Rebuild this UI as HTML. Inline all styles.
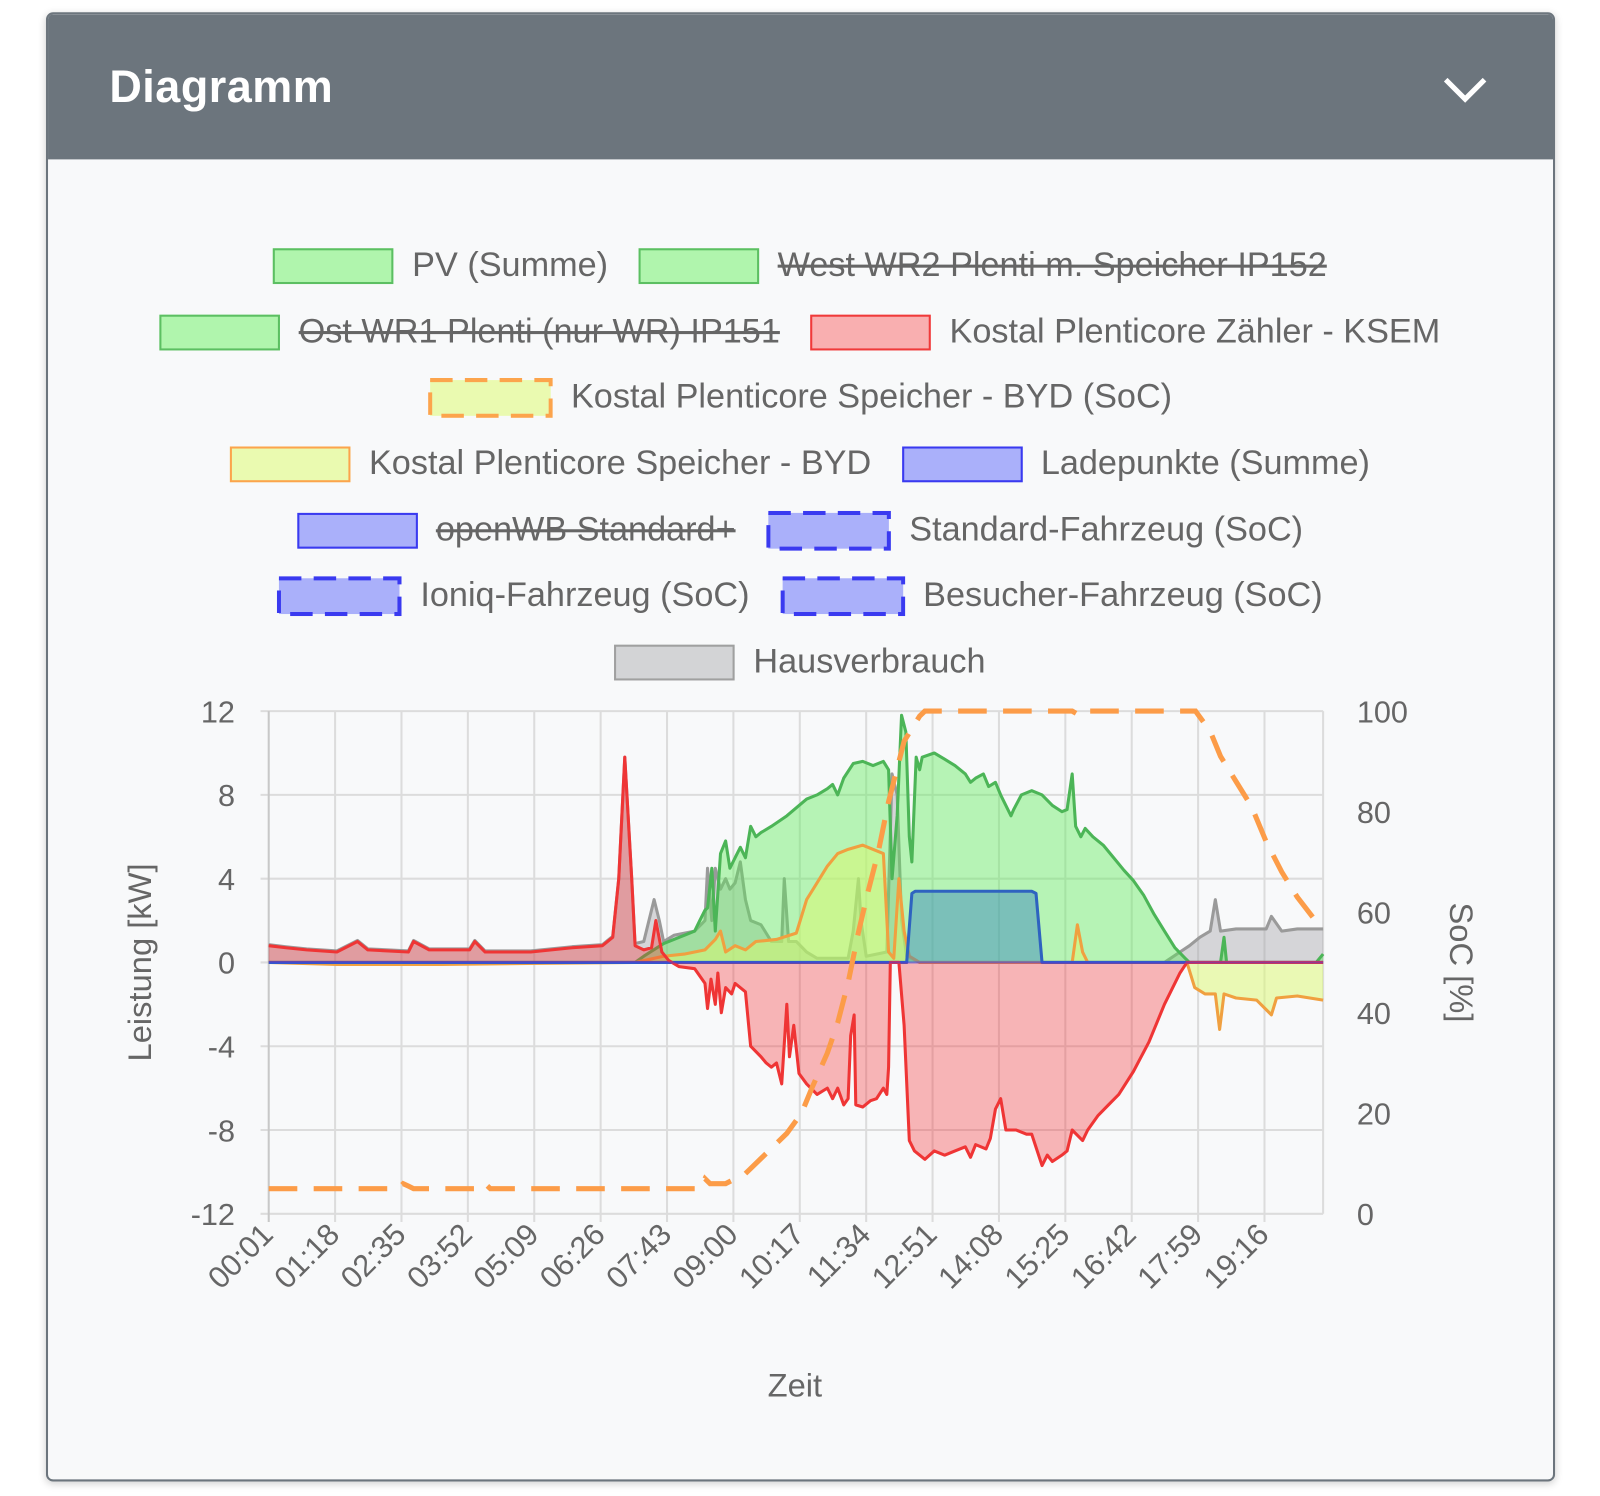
<!DOCTYPE html>
<html><head><meta charset="utf-8">
<style>
html,body{margin:0;padding:0;background:#fff;}
body{width:1600px;height:1496px;overflow:hidden;font-family:"Liberation Sans",sans-serif;}
#wrap{position:absolute;left:0;top:0;width:1566px;height:1464px;transform:scale(1.02171);transform-origin:0 0;}
#card{position:absolute;left:45px;top:12px;width:1473px;height:1434px;border:2px solid #6c757d;border-radius:7px;background:#f8f9fa;overflow:hidden;box-shadow:0 2px 8px rgba(0,0,0,0.18);}
#hdr{position:absolute;left:0;top:0;width:100%;height:142px;background:#6c757d;}
#title{position:absolute;left:60px;top:47px;color:#fff;font-weight:bold;font-size:44px;letter-spacing:0.5px;}
#chev{position:absolute;left:1364px;top:58px;}
.row{position:absolute;left:0;width:1566px;display:flex;justify-content:center;align-items:center;height:40px;}
.item{display:flex;align-items:center;margin:0 15px;color:#666;font-size:33.5px;white-space:nowrap;}
.box{width:114px;height:31px;margin-right:18px;border:2px solid;}
svg.db{margin-right:18px;}
.off{text-decoration:line-through;text-decoration-thickness:3px;}
</style></head><body>
<div id="wrap">
<div id="card">
 <div id="hdr">
  <div id="title">Diagramm</div>
  <svg id="chev" width="46" height="30"><polyline points="4,6 23,25 42,6" fill="none" stroke="#fff" stroke-width="5"/></svg>
 </div>
</div>
<div class="row" style="top:240px">
 <div class="item"><div class="box" style="background:#b0f5ad;border-color:#5cbf62"></div>PV (Summe)</div>
 <div class="item off"><div class="box" style="background:#b0f5ad;border-color:#5cbf62"></div>West WR2 Plenti m. Speicher IP152</div>
</div>
<div class="row" style="top:305px">
 <div class="item off"><div class="box" style="background:#b0f5ad;border-color:#5cbf62"></div>Ost WR1 Plenti (nur WR) IP151</div>
 <div class="item"><div class="box" style="background:#f9afb0;border-color:#f03a3a"></div>Kostal Plenticore Zähler - KSEM</div>
</div>
<div class="row" style="top:369px">
 <div class="item"><svg class="db" width="122" height="39"><rect x="2" y="2" width="118" height="35" fill="#eafab0" stroke="#fca44c" stroke-width="4" stroke-dasharray="22 12"/></svg>Kostal Plenticore Speicher - BYD (SoC)</div>
</div>
<div class="row" style="top:434px">
 <div class="item"><div class="box" style="background:#eafab0;border-color:#fca44c"></div>Kostal Plenticore Speicher - BYD</div>
 <div class="item"><div class="box" style="background:#aab0fa;border-color:#3a3af0"></div>Ladepunkte (Summe)</div>
</div>
<div class="row" style="top:499px">
 <div class="item off"><div class="box" style="background:#aab0fa;border-color:#3a3af0"></div>openWB Standard+</div>
 <div class="item"><svg class="db" width="122" height="39"><rect x="2" y="2" width="118" height="35" fill="#aab0fa" stroke="#3a3af0" stroke-width="4" stroke-dasharray="22 12"/></svg>Standard-Fahrzeug (SoC)</div>
</div>
<div class="row" style="top:563px">
 <div class="item"><svg class="db" width="122" height="39"><rect x="2" y="2" width="118" height="35" fill="#aab0fa" stroke="#3a3af0" stroke-width="4" stroke-dasharray="22 12"/></svg>Ioniq-Fahrzeug (SoC)</div>
 <div class="item"><svg class="db" width="122" height="39"><rect x="2" y="2" width="118" height="35" fill="#aab0fa" stroke="#3a3af0" stroke-width="4" stroke-dasharray="22 12"/></svg>Besucher-Fahrzeug (SoC)</div>
</div>
<div class="row" style="top:628px">
 <div class="item"><div class="box" style="background:#d3d4d6;border-color:#a0a0a0"></div>Hausverbrauch</div>
</div>
<svg id="plot" width="1566" height="1464" style="position:absolute;left:0;top:0"></svg>
</div>
<script>
const xTickLabels=["00:01","01:18","02:35","03:52","05:09","06:26","07:43","09:00","10:17","11:34","12:51","14:08","15:25","16:42","17:59","19:16"];
const yLeftTicks=[12,8,4,0,-4,-8,-12];
const yRightTicks=[100,80,60,40,20,0];
const redT=[0,20,44,79,103,115,162,168,186,233,239,251,304,352,387,399,406,413,421,425,435,444,449,456,464,476,494,506,509,513,518,521,525,530,537,541,553,559,571,577,583,589,595,601,604,609,615,624,636,648,654,660,667,672,675,679,681,689,698,705,713,717,719,721,731,737,743,749,761,772,784,796,808,814,820,832,837,843,849,855,867,879,885,897,903,909,920,926,932,944,950,962,974,986,1003,1021,1039,1057,1065,1223];
const redV=[0.8,0.7,0.6,0.5,1.0,0.6,0.5,1.0,0.6,0.6,1.0,0.5,0.5,0.7,0.8,1.2,4,9.8,4,0.8,0.6,0.7,2.0,0.5,0.1,-0.2,-0.3,-1.0,-2.2,-0.8,-2.0,-0.5,-2.4,-1.2,-1.5,-1.0,-1.4,-4,-4.5,-4.8,-5.0,-4.8,-5.8,-2.0,-4.5,-3.0,-5.3,-5.8,-6.3,-6.0,-6.5,-6.0,-6.8,-6.5,-3.5,-2.5,-6.8,-6.9,-6.6,-6.5,-6.0,-6.3,-5.0,0,0,-3,-8.5,-9.0,-9.4,-9.0,-9.2,-9.0,-8.8,-9.3,-8.7,-8.9,-8.4,-7.0,-6.5,-8.0,-8.0,-8.2,-8.2,-9.7,-9.2,-9.5,-9.2,-9.0,-8.0,-8.5,-8.0,-7.3,-6.8,-6.3,-5.2,-3.8,-2.0,-0.5,0,0];
const pvT=[0,425,435,458,482,494,500,506,509,514,518,524,530,535,541,547,553,559,565,571,583,601,624,636,648,654,660,667,678,689,701,713,719,723,729,734,739,743,746,751,755,758,772,784,796,808,814,820,829,835,843,849,861,864,873,885,897,909,920,926,932,936,942,947,956,968,980,992,1003,1015,1027,1039,1051,1063,1068,1104,1108,1111,1215,1223];
const pvV=[0,0,0.3,0.9,1.3,1.5,2.0,2.5,2.6,4.5,1.5,5.2,5.8,4.5,5.0,5.5,5.0,6.5,6.0,6.2,6.5,7.0,7.8,8.0,8.3,8.5,8.0,8.8,9.5,9.6,9.4,9.6,9.2,4.0,7.0,11.8,11.0,6.0,4.8,9.8,9.2,9.8,10.0,9.7,9.4,9.0,8.6,8.8,9.0,8.4,8.6,8.0,7.0,7.3,8.0,8.2,8.0,7.5,7.2,7.3,9.0,6.5,6.0,6.4,6.0,5.6,5.0,4.4,3.9,3.2,2.3,1.5,0.7,0.2,0,0,1.2,0,0,0.4];
const houseT=[0,20,44,79,103,115,162,168,186,233,239,251,304,352,387,399,406,413,421,425,435,447,453,458,470,494,506,509,514,518,524,530,535,541,547,553,559,571,583,595,598,603,612,624,636,672,678,684,687,693,717,723,729,734,740,755,1039,1057,1068,1080,1092,1098,1104,1122,1157,1163,1175,1193,1223];
const houseV=[0.85,0.75,0.65,0.55,1.05,0.65,0.55,1.05,0.65,0.65,1.05,0.55,0.55,0.75,0.85,1.25,4,9.8,4,0.9,1.0,3.0,2.0,1.0,1.3,1.5,2.0,4.5,2.0,4.5,3.5,4.0,3.5,3.8,4.8,3.0,2.0,1.8,1.0,1.0,4.0,1.0,1.0,0.5,0.2,0.2,1.5,4.0,2.0,0.3,0.5,9.0,8.0,2.0,0.3,0,0,0.5,0.8,1.2,1.5,3.0,1.5,1.6,1.6,2.2,1.5,1.6,1.6];
const battT=[0,79,200,300,425,458,482,506,518,524,530,541,553,565,589,612,624,636,648,660,672,689,713,719,725,731,737,743,755,932,938,944,950,1065,1074,1086,1098,1103,1108,1122,1146,1163,1169,1193,1223];
const battV=[0,-0.1,-0.1,-0.05,0,0.3,0.4,0.6,1.1,1.5,0.5,0.8,0.6,1.0,1.1,1.4,3.0,3.8,4.6,5.2,5.4,5.6,5.2,0.5,0.2,4.0,1.5,0.3,0,0,1.8,0.5,0,0,-1.2,-1.5,-1.5,-3.2,-1.5,-1.7,-1.8,-2.5,-1.7,-1.6,-1.8];
const chargeT=[0,740,746,750,885,890,897,1223];
const chargeV=[0,0,3.3,3.4,3.4,3.3,0,0];
const socT=[0,150,156,162,168,245,251,257,500,506,512,530,553,571,601,618,630,648,660,672,684,695,707,719,737,755,761,932,942,951,1075,1092,1104,1122,1140,1157,1175,1193,1211,1223];
const socV=[5,5,6,5.5,5,5,6,5,5,7,6,6,8,11,16,20,25,32,38,46,56,64,72,82,94,99,100,100,99,100,100,96,91,86,81,74,68,63,59,58];

const NS="http://www.w3.org/2000/svg";
const svg=document.getElementById('plot');
const X0=263,X1=1295,YT=696,YB=1188;
const TMAX=1223;
function xs(t){return X0+t*(X1-X0)/TMAX;}
function yl(v){return YT+(12-v)*(YB-YT)/24;}
function yr(v){return YB-v*(YB-YT)/100;}
function mk(tag,attrs){const e=document.createElementNS(NS,tag);for(const k in attrs)e.setAttribute(k,attrs[k]);svg.appendChild(e);return e;}
yLeftTicks.forEach(v=>{const g=mk('line',{x1:X0-8,x2:X1,y1:yl(v),y2:yl(v),stroke:'#dcdcdc','stroke-width':2});


const t=mk('text',{x:230,y:yl(v)+11,'text-anchor':'end','font-size':30,fill:'#666','font-family':'Liberation Sans, sans-serif'});t.textContent=v;

});
yRightTicks.forEach(v=>{const t=mk('text',{x:1328,y:yr(v)+11,'font-size':30,fill:'#666','font-family':'Liberation Sans, sans-serif'});t.textContent=v;

});
xTickLabels.forEach((l,i)=>{const x=xs(i*77);const g=mk('line',{x1:x,x2:x,y1:YT,y2:YB+8,stroke:i==0?'#c8c8c8':'#dcdcdc','stroke-width':2});


const t=mk('text',{x:x+6,y:YB+22,'text-anchor':'end','font-size':30,fill:'#666','font-family':'Liberation Sans, sans-serif',transform:`rotate(-45 ${x+6} ${YB+22})`});t.textContent=l;

});
mk('line',{x1:X1,x2:X1,y1:YT,y2:YB,stroke:'#dcdcdc','stroke-width':2});
function area(T,V,fill,stroke,name){
 let d='';T.forEach((t,i)=>{d+=(i?'L':'M')+xs(t).toFixed(1)+','+yl(V[i]).toFixed(1);});
 const a=mk('path',{d:d+`L${xs(T[T.length-1])},${yl(0)}L${xs(T[0])},${yl(0)}Z`,fill:fill,stroke:'none'});
 
 
 const l=mk('path',{d:d,fill:'none',stroke:stroke,'stroke-width':3,'stroke-linejoin':'round'});
 
 
}
area(houseT,houseV,'rgba(160,160,165,0.4)','#9a9a9a','hausverbrauch');
area(pvT,pvV,'rgba(90,235,85,0.42)','#4cb557','pv-summe');
area(battT,battV,'rgba(220,250,110,0.5)','#f0a040','byd-power');
area(chargeT,chargeV,'rgba(50,130,190,0.45)','#2e63c0','ladepunkte');
area(redT,redV,'rgba(245,40,45,0.33)','#ef3535','ksem-grid');
mk('line',{x1:X0,x2:X1,y1:yl(0),y2:yl(0),stroke:'#3a3af0','stroke-width':2,opacity:0.5});
let sd='';socT.forEach((t,i)=>{sd+=(i?'L':'M')+xs(t).toFixed(1)+','+yr(socV[i]).toFixed(1);});
const s=mk('path',{d:sd,fill:'none',stroke:'#fc9c48','stroke-width':5,'stroke-dasharray':'28 16'});


const a1=mk('text',{x:0,y:0,'text-anchor':'middle','font-size':32,fill:'#666','font-family':'Liberation Sans, sans-serif',transform:'translate(148 942) rotate(-90)'});a1.textContent='Leistung [kW]';


const a2=mk('text',{x:0,y:0,'text-anchor':'middle','font-size':32,fill:'#666','font-family':'Liberation Sans, sans-serif',transform:'translate(1419 942) rotate(90)'});a2.textContent='SoC [%]';


const a3=mk('text',{x:778,y:1367,'text-anchor':'middle','font-size':32,fill:'#666','font-family':'Liberation Sans, sans-serif'});a3.textContent='Zeit';


</script>
</body></html>
